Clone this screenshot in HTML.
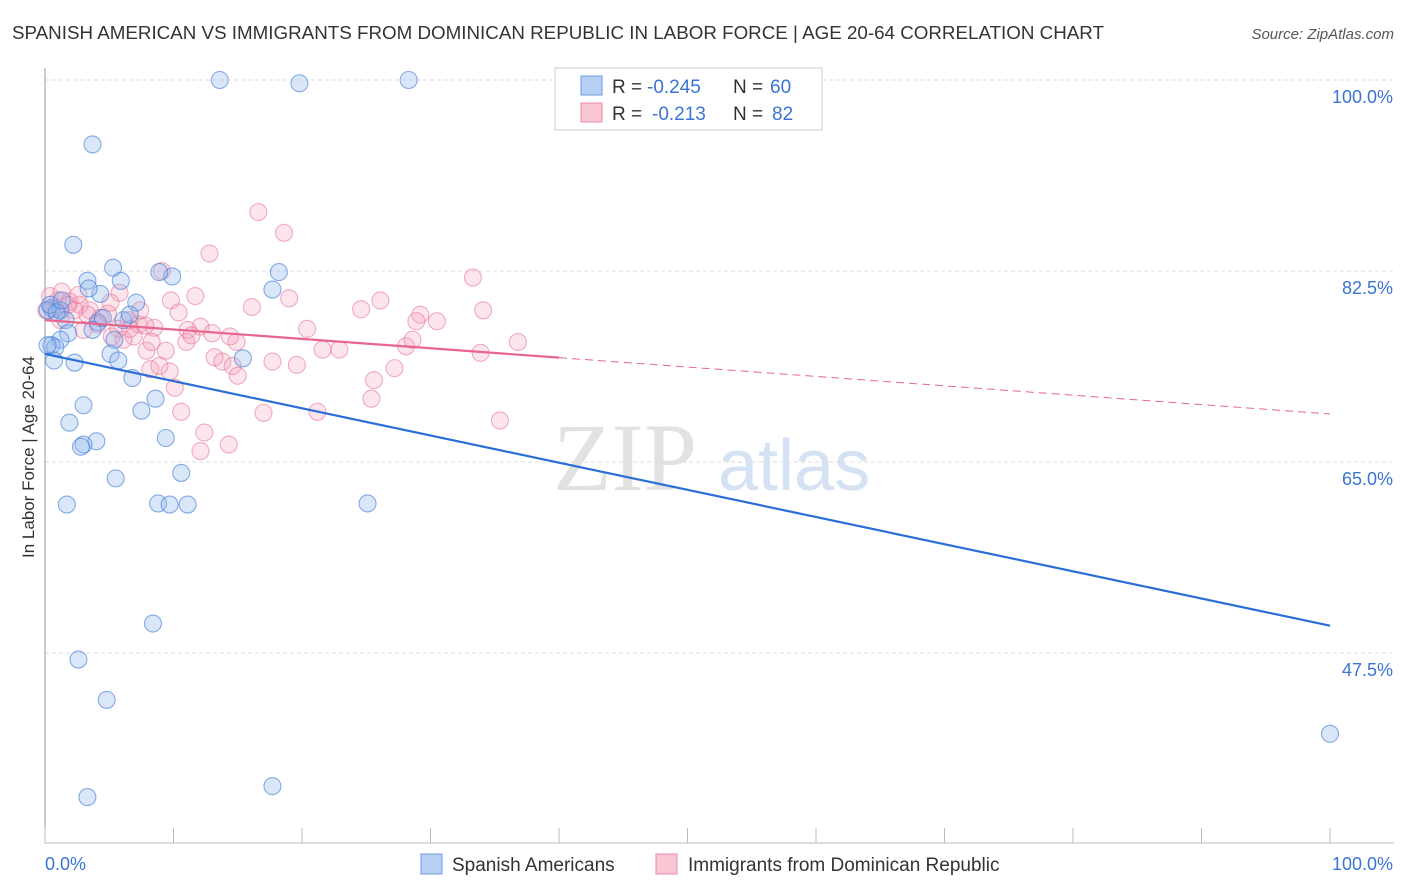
<!DOCTYPE html>
<html><head><meta charset="utf-8"><style>
body{margin:0;background:#fff;font-family:"Liberation Sans",sans-serif}
</style></head><body>
<svg id="chart" width="1406" height="892" xmlns="http://www.w3.org/2000/svg" style="display:block">
<text x="12" y="39" font-size="18" fill="#333" textLength="1092" lengthAdjust="spacingAndGlyphs">SPANISH AMERICAN VS IMMIGRANTS FROM DOMINICAN REPUBLIC IN LABOR FORCE | AGE 20-64 CORRELATION CHART</text>
<text x="1394" y="39" font-size="15" fill="#555" text-anchor="end" font-style="italic">Source: ZipAtlas.com</text>
<g>
<text x="553" y="490" font-size="96" fill="#e2e2e2" font-family="Liberation Serif,serif">ZIP</text>
<text x="718" y="490" font-size="72" fill="#d4e2f4">atlas</text>
</g>
<g id="grid"></g>
<line x1="45" y1="68" x2="45" y2="843" stroke="#999" stroke-width="1"/>
<line x1="45" y1="843" x2="1394" y2="843" stroke="#bbb" stroke-width="1"/>
<g id="xticks"></g>
<text transform="translate(34,457) rotate(-90)" font-size="17" fill="#333" text-anchor="middle">In Labor Force | Age 20-64</text>
<text x="45" y="870" font-size="18" fill="#3a74d4">0.0%</text>
<text x="1393" y="870" font-size="18" fill="#3a74d4" text-anchor="end">100.0%</text>
<g id="pts"></g>
<g id="trends"></g>
<g>
<rect x="555" y="68" width="267" height="62" fill="#fff" stroke="#ccc"/>
<rect x="581" y="76" width="21" height="19" fill="#b6d0f3" stroke="#6d9be0"/>
<rect x="581" y="103" width="21" height="19" fill="#f9c6d4" stroke="#eb8aa7"/>
<text font-size="19" fill="#333"><tspan x="612" y="93">R =</tspan><tspan x="647" y="93" fill="#3a74d4">-0.245</tspan><tspan x="733" y="93">N =</tspan><tspan x="770" y="93" fill="#3a74d4">60</tspan></text>
<text font-size="19" fill="#333"><tspan x="612" y="120">R =</tspan><tspan x="652" y="120" fill="#3a74d4">-0.213</tspan><tspan x="733" y="120">N =</tspan><tspan x="772" y="120" fill="#3a74d4">82</tspan></text>
</g>
<g>
<rect x="421" y="854" width="21" height="20" fill="#b6d0f3" stroke="#6d9be0"/>
<text x="452" y="871" font-size="19" fill="#333">Spanish Americans</text>
<rect x="656" y="854" width="21" height="20" fill="#f9c6d4" stroke="#eb8aa7"/>
<text x="688" y="871" font-size="19" fill="#333">Immigrants from Dominican Republic</text>
</g>
</svg>
<script>
const yTicks=[100,82.5,65,47.5];
const yTickLabels=["100.0%","82.5%","65.0%","47.5%"];
const xTicks=[0,10,20,30,40,50,60,70,80,90,100];
const blueX=[13.6,19.8,28.3,3.7,2.2,5.3,3.3,5.9,9.9,8.9,18.2,17.7,4.3,3.4,7.1,0.5,1.2,1.6,4.1,6.1,1.8,1.2,5.4,0.5,0.8,5.1,15.4,0.7,2.3,5.7,6.8,8.6,3.0,7.5,1.9,9.4,4.0,3.0,2.8,10.6,5.5,1.7,8.8,9.7,11.1,25.1,8.4,2.6,4.8,3.3,17.7,100,0.2,0.4,0.9,1.3,4.5,6.6,0.2,3.7];
const blueY=[100,99.7,100,94.1,84.9,82.8,81.6,81.6,82.0,82.4,82.4,80.8,80.4,80.9,79.6,79.1,78.9,78.0,77.8,78.0,76.8,76.2,76.2,75.7,75.5,74.9,74.5,74.3,74.1,74.3,72.7,70.8,70.2,69.7,68.6,67.2,66.9,66.6,66.4,64.0,63.5,61.1,61.2,61.1,61.1,61.2,50.2,46.9,43.2,34.3,35.3,40.1,78.9,79.4,78.7,79.8,78.2,78.5,75.7,77.1];
const pinkX=[16.6,18.6,12.8,33.3,9.1,11.7,19.0,5.8,26.1,16.1,24.6,34.1,9.8,10.4,29.2,30.5,28.9,20.4,8.5,6.5,7.3,12.1,13.0,14.9,11.1,4.3,3.5,5.7,0.4,1.0,1.3,1.9,2.7,3.3,1.2,2.3,4.9,6.9,6.1,7.9,9.4,8.3,11.0,13.2,13.8,14.6,15.0,9.7,8.2,8.9,17.7,19.6,21.6,22.9,28.1,28.6,25.6,27.2,25.4,10.1,10.6,17.0,21.2,12.4,12.1,14.3,35.4,36.8,33.9,6.6,5.2,4.1,3.0,1.8,0.8,0.1,2.6,7.8,11.4,14.4,5.1,7.4];
const pinkY=[87.9,86.0,84.1,81.9,82.5,80.2,80.0,80.5,79.8,79.2,79.0,78.9,79.8,78.7,78.5,77.9,77.9,77.2,77.3,78.0,77.6,77.4,76.8,76.0,77.1,78.2,78.9,77.2,80.2,79.8,80.6,79.7,79.4,78.5,78.0,78.9,78.6,76.5,76.2,75.2,75.2,76.0,76.0,74.6,74.2,73.8,72.9,73.3,73.5,73.8,74.2,73.9,75.3,75.3,75.6,76.2,72.5,73.6,70.8,71.8,69.6,69.5,69.6,67.7,66.0,66.6,68.8,76.0,75.0,77.2,76.5,77.6,77.1,79.4,79.0,78.9,80.3,77.5,76.6,76.5,79.6,78.9];
const blueTrend=[74.9,50.0];
const pinkTrend=[78.0,69.4];
const pinkSolidEnd=40;
const NS="http://www.w3.org/2000/svg";
const sx=v=>45+v*12.85;
const sy=v=>80+(100-v)*191/17.5;
function mk(t,a,p){const e=document.createElementNS(NS,t);for(const k in a)e.setAttribute(k,a[k]);p.appendChild(e);return e;}
const grid=document.getElementById('grid');
yTicks.forEach((v,i)=>{
 const l=mk('line',{x1:45,x2:1394,y1:sy(v),y2:sy(v),stroke:'#ddd','stroke-dasharray':'4,3'},grid);
 
 
 const t=mk('text',{x:1393,y:sy(v)+23,'font-size':18,fill:'#3a74d4','text-anchor':'end'},grid);
 t.textContent=yTickLabels[i];
 
 
});
const xt=document.getElementById('xticks');
xTicks.forEach(v=>{
 const l=mk('line',{x1:sx(v),x2:sx(v),y1:828,y2:843,stroke:'#bbb'},xt);
 
 
});
const pts=document.getElementById('pts');
pinkX.forEach((x,i)=>{
 const c=mk('circle',{cx:sx(x),cy:sy(pinkY[i]),r:8.5,fill:'rgba(244,160,185,0.28)',stroke:'rgba(232,110,145,0.55)','stroke-width':1.1},pts);
 
 
});
blueX.forEach((x,i)=>{
 const c=mk('circle',{cx:sx(x),cy:sy(blueY[i]),r:8.5,fill:'rgba(140,180,235,0.32)',stroke:'rgba(60,120,215,0.6)','stroke-width':1.1},pts);
 
 
});
const tr=document.getElementById('trends');
const pAt=v=>pinkTrend[0]+(pinkTrend[1]-pinkTrend[0])*v/100;
let l1=mk('line',{x1:sx(0),y1:sy(blueTrend[0]),x2:sx(100),y2:sy(blueTrend[1]),stroke:'#2a6fd6','stroke-width':2.2},tr);


let l2=mk('line',{x1:sx(0),y1:sy(pAt(0)),x2:sx(pinkSolidEnd),y2:sy(pAt(pinkSolidEnd)),stroke:'#e8668e','stroke-width':2.2},tr);


let l3=mk('line',{x1:sx(pinkSolidEnd),y1:sy(pAt(pinkSolidEnd)),x2:sx(100),y2:sy(pAt(100)),stroke:'#e8668e','stroke-width':1,'stroke-dasharray':'8,5'},tr);


</script>
</body></html>
